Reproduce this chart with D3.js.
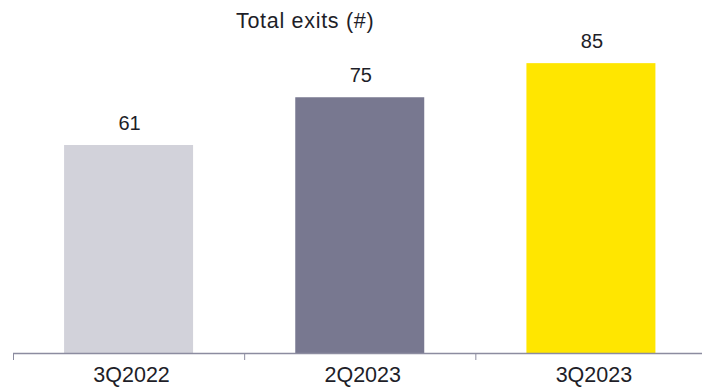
<!DOCTYPE html>
<html>
<head>
<meta charset="utf-8">
<script src="https://cdn.jsdelivr.net/npm/d3@7"></script>
<style>
  html, body { margin: 0; padding: 0; background: #fff; }
  svg { display: block; }
  text { font-family: "Liberation Sans", Arial, sans-serif; fill: #1e1e28; }
</style>
</head>
<body>
<svg id="chart" width="702" height="387"></svg>
<script>
// Quarterly exit counts
const categories = ["3Q2022", "2Q2023", "3Q2023"];
const values = [61, 75, 85];
const barColors = ["#d2d2da", "#787890", "#ffe600"];
const title = "Total exits (#)";

const W = 702, H = 387;
const baseline = 353;

const svg = d3.select("#chart");

const x = d3.scaleBand()
  .domain(categories)
  .range([13, 706.5])
  .paddingInner(0.442)
  .paddingOuter(0.221);

const y = d3.scaleLinear()
  .domain([0, 100])
  .range([baseline, 12]);

// bars
svg.append("g")
  .selectAll("rect")
  .data(values)
  .join("rect")
  .attr("x", (d, i) => x(categories[i]))
  .attr("y", d => y(d))
  .attr("width", x.bandwidth())
  .attr("height", d => y(0) - y(d))
  .attr("fill", (d, i) => barColors[i]);

// value labels
svg.append("g")
  .selectAll("text")
  .data(values)
  .join("text")
  .attr("x", (d, i) => x(categories[i]) + x.bandwidth() / 2 + 1)
  .attr("y", d => y(d) - 15)
  .attr("text-anchor", "middle")
  .style("font-size", "20px")
  .text(d => d);

// category axis: ticks sit on band boundaries
const axis = svg.append("g").attr("transform", `translate(0,${baseline})`);
axis.append("line")
  .attr("x1", 13).attr("x2", W)
  .attr("y1", 0.5).attr("y2", 0.5)
  .attr("stroke", "#8c8ca0")
  .attr("stroke-width", 1.5);
axis.selectAll("line.tick")
  .data(categories)
  .join("line")
  .attr("class", "tick")
  .attr("x1", d => x(d) - x.step() * x.paddingOuter() + 0.5)
  .attr("x2", d => x(d) - x.step() * x.paddingOuter() + 0.5)
  .attr("y1", 0)
  .attr("y2", 7)
  .attr("stroke", "#8c8ca0")
  .attr("stroke-width", 1);
axis.selectAll("text")
  .data(categories)
  .join("text")
  .attr("x", d => x(d) + x.bandwidth() / 2 + 3)
  .attr("y", 28.5)
  .attr("text-anchor", "middle")
  .style("font-size", "21.5px")
  .text(d => d);

// title
svg.append("text")
  .attr("x", 236)
  .attr("y", 27.5)
  .style("font-size", "21.5px")
  .style("letter-spacing", "0.7px")
  .text(title);
</script>
</body>
</html>
